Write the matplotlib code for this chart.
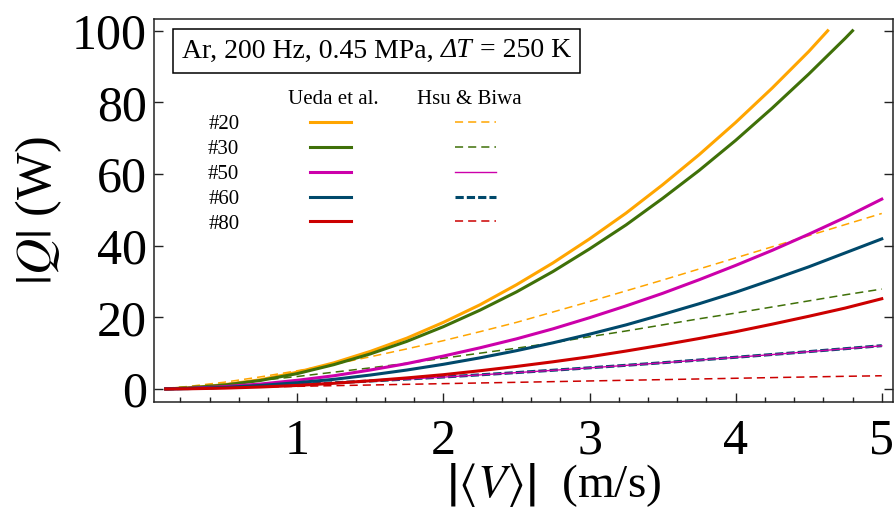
import matplotlib
matplotlib.use("Agg")
import matplotlib.pyplot as plt
from matplotlib.ticker import MultipleLocator
from matplotlib.offsetbox import AnchoredOffsetbox, HPacker, TextArea

plt.rcParams['font.family'] = ['Liberation Serif', 'DejaVu Serif']
plt.rcParams['mathtext.fontset'] = 'stix'

# |<V>| (m/s), common grid of read-off points
v = [0.1, 0.25, 0.5, 0.75, 1.0, 1.25, 1.5, 1.75, 2.0, 2.25, 2.5,
     2.75, 3.0, 3.25, 3.5, 3.75, 4.0, 4.25, 4.5, 4.75, 5.0]

# Ueda et al. (W)
v_ueda_20 = v[:19] + [4.63]
ueda_20 = [0.05, 0.3, 1.2, 2.6, 4.7, 7.3, 10.5, 14.2, 18.6, 23.5, 29.1,
           35.2, 41.9, 49.1, 57.0, 65.4, 74.4, 84.0, 94.2, 100.0]
v_ueda_30 = v[:20] + [4.80]
ueda_30 = [0.04, 0.27, 1.1, 2.4, 4.3, 6.8, 9.8, 13.3, 17.4, 22.0, 27.1,
           32.8, 39.1, 45.8, 53.2, 61.0, 69.4, 78.4, 87.9, 97.9, 100.0]
ueda_50 = [0.03, 0.17, 0.65, 1.4, 2.44, 3.7, 5.3, 7.1, 9.2, 11.5, 14.0,
           16.8, 19.9, 23.2, 26.7, 30.5, 34.5, 38.7, 43.2, 47.9, 53.0]
ueda_60 = [0.02, 0.11, 0.45, 1.0, 1.76, 2.7, 3.9, 5.3, 6.9, 8.7, 10.7,
           12.9, 15.3, 17.9, 20.8, 23.8, 27.0, 30.5, 34.1, 38.0, 41.9]
ueda_80 = [0.01, 0.06, 0.25, 0.56, 1.0, 1.6, 2.3, 3.1, 4.0, 5.1, 6.3,
           7.6, 9.0, 10.6, 12.3, 14.1, 16.0, 18.1, 20.3, 22.6, 25.2]

# Hsu & Biwa (W)
hsu_20 = [0.2, 0.7, 1.9, 3.4, 5.1, 6.9, 9.0, 11.2, 13.5, 16.0, 18.6,
          21.5, 24.4, 27.4, 30.4, 33.5, 36.6, 39.7, 42.8, 45.9, 49.0]
hsu_30 = [0.18, 0.6, 1.4, 2.4, 3.5, 4.7, 5.9, 7.2, 8.6, 10.0, 11.4,
          12.9, 14.6, 16.2, 17.9, 19.6, 21.2, 22.9, 24.6, 26.3, 27.9]
hsu_50 = [0.05, 0.18, 0.47, 0.84, 1.25, 1.72, 2.22, 2.76, 3.33, 3.94, 4.57,
          5.22, 5.90, 6.60, 7.32, 8.07, 8.84, 9.62, 10.42, 11.24, 12.05]
hsu_60 = [0.05, 0.18, 0.48, 0.85, 1.27, 1.74, 2.24, 2.78, 3.35, 3.96, 4.59,
          5.24, 5.92, 6.62, 7.34, 8.09, 8.86, 9.64, 10.44, 11.26, 12.1]
hsu_80 = [0.08, 0.19, 0.38, 0.56, 0.75, 0.94, 1.12, 1.31, 1.5, 1.69, 1.87,
          2.06, 2.25, 2.44, 2.62, 2.81, 3.0, 3.19, 3.37, 3.55, 3.7]

labels = ['#20', '#30', '#50', '#60', '#80']
colors = ['#ffa500', '#3f7008', '#cc00aa', '#00496b', '#cc0000']

fig = plt.figure(figsize=(8.94, 5.09), dpi=100)
ax = fig.add_axes([0.1723, 0.2108, 0.8266, 0.7513])

# Hsu & Biwa first, Ueda et al. drawn on top
hsu_lines = []
hsu_lines += ax.plot(v, hsu_20, color=colors[0], lw=1.1, dashes=(5.3, 3.3))
hsu_lines += ax.plot(v, hsu_30, color=colors[1], lw=1.1, dashes=(5.3, 3.3))
hsu_lines += ax.plot(v, hsu_60, color=colors[3], lw=2.2, dashes=(2.7, 1.0))
hsu_lines += ax.plot(v, hsu_50, color=colors[2], lw=1.0)
hsu_lines += ax.plot(v, hsu_80, color=colors[4], lw=1.1, dashes=(5.3, 3.3))
hsu_lines = [hsu_lines[0], hsu_lines[1], hsu_lines[3], hsu_lines[2], hsu_lines[4]]

ueda_lines = []
ueda_lines += ax.plot(v_ueda_20, ueda_20, color=colors[0], lw=2.2)
ueda_lines += ax.plot(v_ueda_30, ueda_30, color=colors[1], lw=2.2)
ueda_lines += ax.plot(v, ueda_50, color=colors[2], lw=2.2)
ueda_lines += ax.plot(v, ueda_60, color=colors[3], lw=2.2)
ueda_lines += ax.plot(v, ueda_80, color=colors[4], lw=2.2)

ax.set_xlim(0.02, 5.077)
ax.set_ylim(-3.54, 103.2)
ax.set_xticks([1, 2, 3, 4, 5])
ax.set_yticks([0, 20, 40, 60, 80, 100])
ax.xaxis.set_minor_locator(MultipleLocator(0.2))
ax.tick_params(axis='both', which='major', labelsize=36, direction='in',
               length=6.5, width=1.0, color='#222222')
ax.tick_params(axis='y', right=True, pad=5)
ax.tick_params(axis='x', which='major', pad=12)
ax.tick_params(axis='x', which='minor', direction='in', length=3.5, width=1.0,
               color='#222222')
for s in ax.spines.values():
    s.set_linewidth(1.1)
    s.set_color('#222222')

ax.set_ylabel('$|Q|$ (W)', fontsize=36, labelpad=6)
ax.set_xlabel(r'$\left|\langle V\rangle\right|$  (m/s)', fontsize=34, labelpad=0)
ax.xaxis.set_label_coords(0.541, -0.155)

# boxed run conditions, with italic "ΔT"
box_font = dict(size=20)
parts = HPacker(children=[
    TextArea('Ar, 200 Hz, 0.45 MPa, ', textprops=box_font),
    TextArea('ΔT', textprops=dict(size=20, style='italic')),
    TextArea(' = 250 K', textprops=box_font),
], align='baseline', pad=0, sep=0)
cond_box = AnchoredOffsetbox(loc='upper left', child=parts, pad=0.34,
                             borderpad=0, prop=box_font, frameon=True,
                             bbox_to_anchor=(0.0257, 0.9746),
                             bbox_transform=ax.transAxes)
cond_box.patch.set_boxstyle('square,pad=0')
cond_box.patch.set_edgecolor('black')
cond_box.patch.set_linewidth(1.1)
ax.add_artist(cond_box)

leg1 = ax.legend(ueda_lines, labels, loc='upper left',
                 bbox_to_anchor=(0.0731, 0.750), frameon=False, fontsize=15,
                 markerfirst=False, handlelength=1.97, handletextpad=3.4,
                 labelspacing=0.25, borderpad=0, borderaxespad=0)
ax.add_artist(leg1)
ax.legend(hsu_lines, [''] * 5, loc='upper left',
          bbox_to_anchor=(0.4066, 0.750), frameon=False, fontsize=15,
          handlelength=1.97, handletextpad=0, labelspacing=0.25,
          borderpad=0, borderaxespad=0)

ax.text(0.2422, 0.7785, 'Ueda et al.', transform=ax.transAxes, fontsize=15,
        ha='center', va='baseline')
ax.text(0.4263, 0.7785, 'Hsu & Biwa', transform=ax.transAxes, fontsize=15,
        ha='center', va='baseline')

fig.savefig('out.png', dpi=100)
